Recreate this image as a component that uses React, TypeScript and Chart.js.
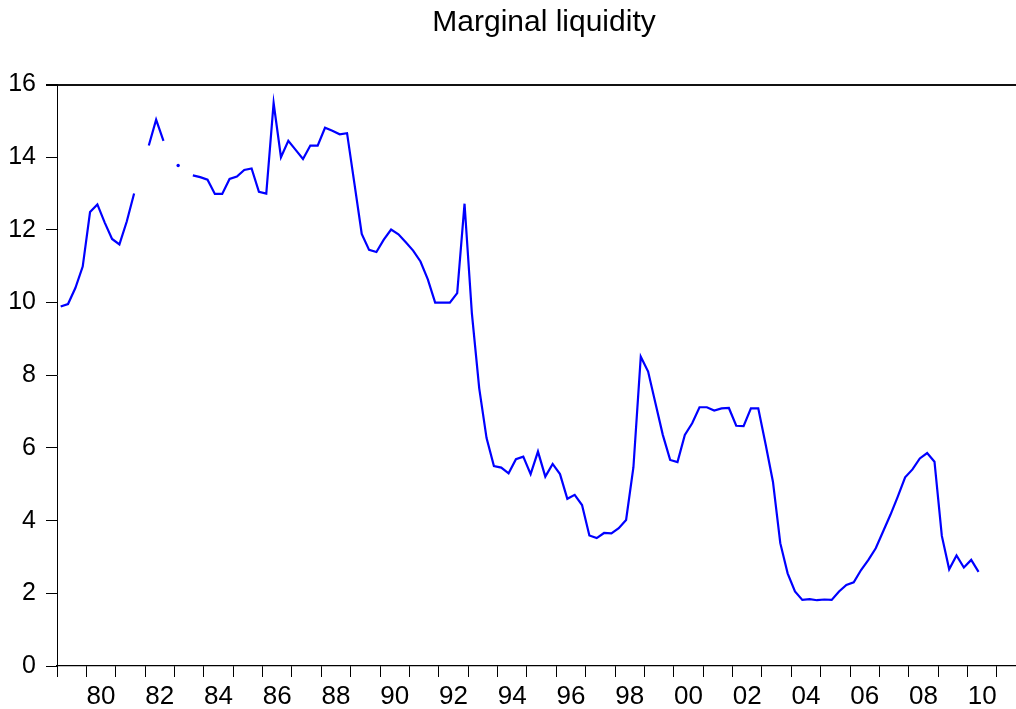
import React, { useEffect, useRef } from "react";
import { Chart, registerables } from "chart.js";

Chart.register(...registerables);

const TITLE = "Marginal liquidity";
const START_YEAR = 1979; // first quarter: 1979Q1
const PERIODS_PER_YEAR = 4;

// Quarterly values, 1979Q1 .. 2010Q2 (null = missing)
const VALUES: (number | null)[] = [
  9.89, 9.96, 10.4, 10.99,
  12.49, 12.7, 12.2, 11.75,
  11.6, 12.23, 13.0, null,
  14.32, 15.03, 14.45, null,
  13.77, null, 13.5, 13.45,
  13.38, 12.99, 12.99, 13.4,
  13.47, 13.65, 13.69, 13.05,
  13.0, 15.49, 14.0, 14.45,
  14.2, 13.95, 14.32, 14.32,
  14.81, 14.73, 14.63, 14.66,
  13.28, 11.89, 11.45, 11.39,
  11.73, 12.01, 11.88, 11.66,
  11.43, 11.13, 10.64, 10.0,
  10.0, 10.0, 10.26, 12.72,
  9.7, 7.64, 6.27, 5.5,
  5.46, 5.3, 5.69, 5.76,
  5.28, 5.9, 5.21, 5.56,
  5.28, 4.6, 4.71, 4.43,
  3.59, 3.52, 3.66, 3.65,
  3.79, 4.02, 5.47, 8.51,
  8.1, 7.23, 6.36, 5.67,
  5.61, 6.36, 6.68, 7.12,
  7.12, 7.03, 7.09, 7.1,
  6.61, 6.6, 7.09, 7.09,
  6.1, 5.07, 3.38, 2.55,
  2.05, 1.82, 1.84, 1.81,
  1.83, 1.82, 2.05, 2.23,
  2.3, 2.64, 2.92, 3.24,
  3.7, 4.16, 4.66, 5.19,
  5.41, 5.71, 5.86, 5.62,
  3.58, 2.66, 3.04, 2.71,
  2.92, 2.59,
];

const X_MIN = 1979;
const X_MAX = 2011.65;
const X_TICK_YEARS = [
  1979, 1980, 1981, 1982, 1983, 1984, 1985, 1986, 1987, 1988, 1989, 1990,
  1991, 1992, 1993, 1994, 1995, 1996, 1997, 1998, 1999, 2000, 2001, 2002,
  2003, 2004, 2005, 2006, 2007, 2008, 2009, 2010, 2011,
];
const X_LABEL_YEARS = [
  1980, 1982, 1984, 1986, 1988, 1990, 1992, 1994, 1996, 1998, 2000, 2002,
  2004, 2006, 2008, 2010,
];
const X_LABELS = [
  "80", "82", "84", "86", "88", "90", "92", "94", "96", "98", "00", "02",
  "04", "06", "08", "10",
];
const Y_MIN = 0;
const Y_MAX = 16;
const Y_STEP = 2;

const FONT_FAMILY = "'Liberation Sans', Arial, Helvetica, sans-serif";

// shifts the title block so that its centre sits where the reference has it
const titleShift = {
  id: "titleShift",
  afterLayout(chart: any) {
    const tb = chart.titleBlock;
    if (tb) {
      tb.left = 72;
      tb.right = 1016;
    }
  },
};

export default function App() {
  const canvasRef = useRef<HTMLCanvasElement | null>(null);

  useEffect(() => {
    const canvas = canvasRef.current;
    if (!canvas) return;

    const points = VALUES.map((v, i) => ({
      x: START_YEAR + (i + 0.5) / PERIODS_PER_YEAR,
      y: v,
    }));

    const labelMap = new Map<number, string>();
    X_LABEL_YEARS.forEach((yr, i) => labelMap.set(yr + 0.5, X_LABELS[i]));

    const chart = new Chart(canvas, {
      type: "line",
      data: {
        datasets: [
          {
            data: points as any,
            borderColor: "#0000FF",
            backgroundColor: "#0000FF",
            borderWidth: 2.2,
            tension: 0,
            spanGaps: false,
            pointRadius: (ctx: any) => {
              const i = ctx.dataIndex;
              const prev = i > 0 ? VALUES[i - 1] : null;
              const next = i < VALUES.length - 1 ? VALUES[i + 1] : null;
              return VALUES[i] != null && prev == null && next == null ? 1.7 : 0;
            },
            pointBorderWidth: 0,
            pointHoverRadius: 0,
          },
        ],
      },
      plugins: [titleShift],
      options: {
        animation: false,
        responsive: false,
        maintainAspectRatio: false,
        layout: { padding: { left: 0, right: 0, top: 0, bottom: 0 } },
        plugins: {
          legend: { display: false },
          tooltip: { enabled: false },
          title: {
            display: true,
            text: TITLE,
            fullSize: false,
            color: "#000",
            font: { family: FONT_FAMILY, size: 30, weight: "normal" as any, lineHeight: 1.2 },
            padding: { top: 5, bottom: 43.5 },
          },
        },
        scales: {
          x: {
            type: "linear",
            min: X_MIN,
            max: X_MAX,
            afterBuildTicks: (scale: any) => {
              const vals = [...X_TICK_YEARS, ...X_LABEL_YEARS.map((y) => y + 0.5)].sort(
                (a, b) => a - b
              );
              scale.ticks = vals.map((v) => ({ value: v }));
            },
            afterFit: (scale: any) => {
              scale.height = 43;
            },
            ticks: {
              autoSkip: false,
              maxRotation: 0,
              minRotation: 0,
              padding: 8,
              color: "#000",
              font: { family: FONT_FAMILY, size: 26, lineHeight: 0.9 },
              callback: (value: any) => labelMap.get(Number(value)) ?? "",
            },
            grid: {
              display: true,
              drawOnChartArea: false,
              drawTicks: true,
              tickLength: 11,
              tickWidth: 1,
              tickColor: (ctx: any) =>
                ctx.tick && Number.isInteger(ctx.tick.value) ? "#000" : "rgba(0,0,0,0)",
            },
            border: { display: true, color: "#000", width: 1.2 },
          },
          y: {
            type: "linear",
            min: Y_MIN,
            max: Y_MAX,
            afterFit: (scale: any) => {
              scale.width = 57;
            },
            ticks: {
              stepSize: Y_STEP,
              padding: 10,
              color: "#000",
              font: { family: FONT_FAMILY, size: 25 },
            },
            grid: {
              display: true,
              drawOnChartArea: true,
              drawTicks: true,
              tickLength: 11,
              tickColor: "#000",
              color: (ctx: any) =>
                ctx.tick && ctx.tick.value === Y_MAX ? "#111" : "rgba(0,0,0,0)",
              lineWidth: (ctx: any) => (ctx.tick && ctx.tick.value === Y_MAX ? 2 : 1),
            },
            border: { display: true, color: "#000", width: 1 },
          },
        },
      },
    });

    return () => {
      chart.destroy();
    };
  }, []);

  return (
    <div
      style={{
        position: "fixed",
        left: 0,
        top: 0,
        width: 1016,
        height: 709,
        background: "#fff",
      }}
    >
      <canvas
        ref={canvasRef}
        width={1016}
        height={709}
        style={{ display: "block", width: 1016, height: 709 }}
      />
    </div>
  );
}
